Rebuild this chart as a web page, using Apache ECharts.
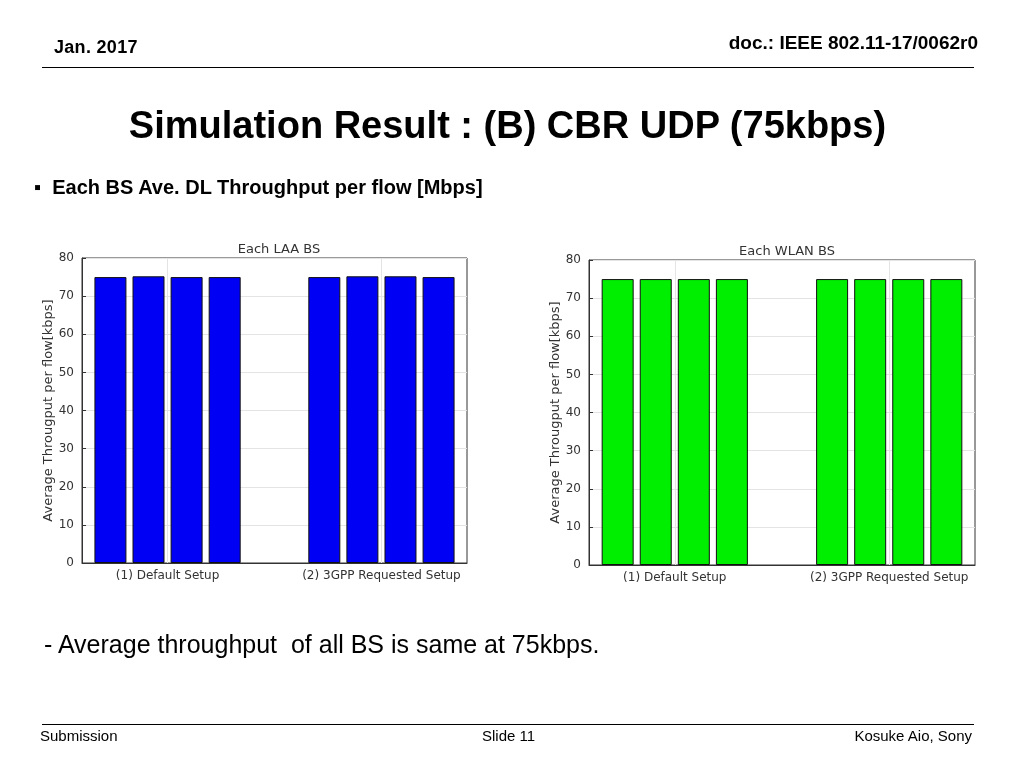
<!DOCTYPE html>
<html><head><meta charset="utf-8">
<script src="https://cdn.jsdelivr.net/npm/echarts@6/dist/echarts.min.js"></script>
<style>
body{margin:0;width:1024px;height:768px;background:#fff;position:relative;font-family:"Liberation Sans",sans-serif;overflow:hidden}
.t{position:absolute;white-space:nowrap;color:#000}
#c{position:absolute;left:0;top:0;width:1024px;height:768px}
</style></head><body>
<div id="c"></div>
<div class="t" style="left:54px;top:37px;font-size:18px;font-weight:bold;letter-spacing:0.3px">Jan. 2017</div>
<div class="t" style="right:46px;top:32px;font-size:19px;font-weight:bold">doc.: IEEE 802.11-17/0062r0</div>
<div style="position:absolute;left:42px;top:67px;width:932px;height:1px;background:#000"></div>
<div class="t" style="left:122px;width:771px;text-align:center;top:104px;font-size:38px;font-weight:bold">Simulation Result : (B) CBR UDP (75kbps)</div>
<div class="t" style="left:34px;top:176px;font-size:20px;font-weight:bold">▪&nbsp;&nbsp;Each BS Ave. DL Throughput per flow [Mbps]</div>
<div class="t" style="left:44px;top:630px;font-size:25px">- Average throughput&nbsp; of all BS is same at 75kbps.</div>
<div style="position:absolute;left:42px;top:724px;width:932px;height:1px;background:#000"></div>
<div class="t" style="left:40px;top:727px;font-size:15px">Submission</div>
<div class="t" style="left:482px;top:727px;font-size:15px">Slide 11</div>
<div class="t" style="right:52px;top:727px;font-size:15px">Kosuke Aio, Sony</div>
<script>
const categories=['(1) Default Setup','(2) 3GPP Requested Setup'];
const laaS1=[75,75],laaS2=[75.2,75.2],laaS3=[75,75.2],laaS4=[75,75];
const wlanS1=[75,75],wlanS2=[75,75],wlanS3=[75,75],wlanS4=[75,75];
const yTicks={min:0,max:80,interval:10};
const ch=echarts.init(document.getElementById('c'));
const grids=[{left:82,top:258,width:385,height:305},{left:589,top:260,width:386,height:305}];
function xa(i){return {type:'value',gridIndex:i,min:0.6,max:2.4,
 axisLine:{onZero:false,lineStyle:{color:'#333'}},
 axisTick:{show:false,customValues:[1,2]},
 axisLabel:{customValues:[1,2],formatter:v=>categories[Math.round(v)-1]||'',color:'#333',fontSize:12,fontFamily:'DejaVu Sans',margin:7},
 splitLine:{show:false}};}
function ya(i){return {type:'value',gridIndex:i,min:yTicks.min,max:yTicks.max,interval:yTicks.interval,
 name:'Average Througput per flow[kbps]',nameLocation:'middle',nameGap:25,
 nameTextStyle:{color:'#333',fontSize:13,fontFamily:'DejaVu Sans'},
 axisLine:{show:true,lineStyle:{color:'#333'}},axisTick:{show:true,inside:true,length:4},
 axisLabel:{color:'#333',fontSize:12,fontFamily:'DejaVu Sans',margin:8},
 splitLine:{show:true,lineStyle:{color:'#e4e4e4'}}};}
function mk(i,arr,col){
 return {type:'bar',xAxisIndex:i,yAxisIndex:i,z:3,data:arr.map((v,k)=>[k+1,v]),barWidth:32,barGap:'19%',
  itemStyle:{color:col,borderColor:'#111',borderWidth:1},silent:true};}
function vl(i){return {type:'line',xAxisIndex:i,yAxisIndex:i,z:1,data:[],silent:true,
 markLine:{silent:true,symbol:'none',label:{show:false},lineStyle:{color:'#e4e4e4',type:'solid',width:1},
  data:categories.map((c,k)=>({xAxis:k+1}))}};}
ch.setOption({animation:false,
 title:[{text:'Each LAA BS',left:274,top:238,textAlign:'center',textStyle:{fontSize:13,fontWeight:'normal',color:'#333',fontFamily:'DejaVu Sans'}},
        {text:'Each WLAN BS',left:782,top:240,textAlign:'center',textStyle:{fontSize:13,fontWeight:'normal',color:'#333',fontFamily:'DejaVu Sans'}}],
 grid:grids.map(g=>Object.assign({show:true,borderColor:'#333',borderWidth:1,backgroundColor:'#fff'},g)),
 xAxis:[xa(0),xa(1)],yAxis:[ya(0),ya(1)],
 series:[vl(0),vl(1),mk(0,laaS1,'#0000f5'),mk(0,laaS2,'#0000f5'),mk(0,laaS3,'#0000f5'),mk(0,laaS4,'#0000f5'),
  mk(1,wlanS1,'#00ee00'),mk(1,wlanS2,'#00ee00'),mk(1,wlanS3,'#00ee00'),mk(1,wlanS4,'#00ee00')]});
</script></body></html>
